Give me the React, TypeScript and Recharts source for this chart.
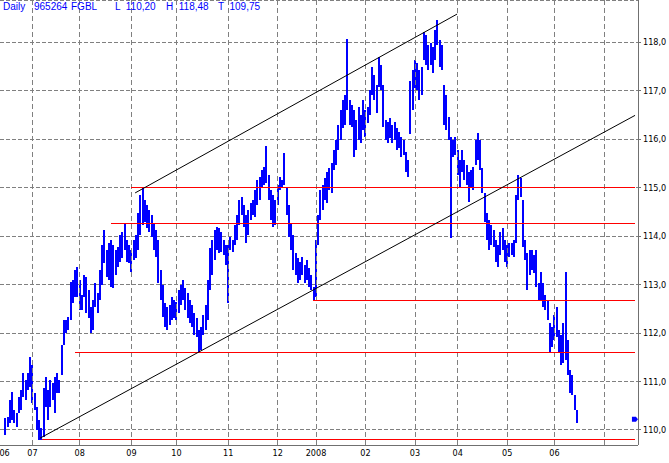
import React from 'react';
import {
  ComposedChart,
  Bar,
  XAxis,
  YAxis,
  CartesianGrid,
  ReferenceLine,
  ReferenceDot,
} from 'recharts';

// trading-day index of the first bar
const firstDay = 2;

const lows = [
  109.90, 110.06, 110.14, 110.21, 110.14, 110.06, 110.35, 110.41, 110.68, 110.62,
  110.82, 110.89, 110.56, 110.41, 110.00, 109.79, 109.79, 109.86, 110.47, 110.21,
  110.47, 110.62, 110.35, 110.76, 110.76, 111.13, 111.75, 112.00, 112.06, 112.27,
  112.62, 112.74, 112.74, 112.47, 112.47, 112.74, 112.41, 112.31, 112.00, 112.06,
  112.54, 112.41, 112.68, 112.99, 113.44, 113.15,
  113.09, 112.95, 112.93, 113.20, 113.36, 113.46, 113.55, 113.71, 113.46, 113.44,
  113.26, 113.51, 113.55, 113.71, 114.02, 114.23, 114.29, 114.16, 114.08, 113.98,
  113.71, 113.57, 113.03, 112.68, 112.33, 112.12, 112.06, 112.16, 112.27, 112.31,
  112.27, 112.41, 112.58, 112.68, 112.47, 112.31, 112.21, 112.12, 111.96, 111.92,
  111.59, 111.65, 111.96, 112.06, 112.27, 112.89, 113.20, 113.51, 113.71, 113.65,
  113.67, 113.61, 113.40, 112.62, 113.71, 113.67, 113.81, 113.92, 114.23, 114.43,
  114.19, 113.86, 114.02, 114.33, 114.43, 114.39, 114.64, 114.74, 115.01, 115.05,
  115.09, 114.74, 114.33, 114.19, 114.23, 114.64, 114.95, 114.99, 115.05, 114.43,
  113.98, 113.71, 113.30, 113.20, 113.03, 113.09, 113.20, 113.03, 113.09, 112.95,
  112.89, 112.68, 112.74, 113.81, 114.33, 114.54, 114.74, 114.68, 114.95, 114.89,
  115.36, 115.46, 115.77, 115.98, 116.23, 116.29, 116.60, 116.29, 116.25, 115.63,
  115.77, 115.98, 115.92, 116.19, 116.04, 116.33, 116.49, 116.91, 116.80, 116.54,
  117.07, 117.01, 116.25, 115.98, 115.92, 116.02, 115.92, 115.98, 115.77, 115.81,
  115.63, 115.67, 115.32, 115.22, 116.10, 116.60, 117.05, 117.01, 116.80, 116.91,
  117.63, 117.53, 117.42, 117.53, 117.36, 117.63, 117.94, 117.48, 117.42, 116.29,
  116.19, 115.98,
  113.96, 115.63, 115.67, 115.26, 115.01, 115.32, 115.15, 115.05, 114.70, 114.99,
  114.95, 115.46, 115.57, 115.36, 114.89, 114.29, 113.92, 113.71, 113.81, 113.77,
  113.46, 113.36, 113.61, 113.71, 113.46, 113.36, 113.57, 113.61, 113.57, 113.86,
  114.74, 114.80, 113.77, 113.51, 112.89, 113.20, 113.30, 113.24, 112.95, 112.68,
  112.68, 112.54, 112.47, 112.27, 111.59, 111.71, 111.86, 111.92, 111.59, 111.34,
  111.38, 111.44, 111.13, 110.76, 110.72, 110.41, 110.14,
];

const highs = [
  110.25, 110.27, 110.62, 110.78, 110.41, 110.35, 110.68, 110.82, 111.18, 111.03,
  111.18, 111.51, 111.34, 110.76, 110.47, 110.21, 110.04, 110.87, 111.09, 110.82,
  111.03, 110.97, 111.09, 111.18, 111.03, 111.75, 112.27, 112.27, 112.33, 113.05,
  113.09, 113.30, 113.36, 113.09, 112.78, 113.20, 113.15, 112.89, 112.54, 112.68,
  113.03, 112.82, 113.30, 113.81, 114.12, 113.71,
  113.86, 113.92, 113.81, 113.71, 113.77, 114.02, 114.08, 114.27, 113.92, 113.81,
  113.71, 113.92, 114.02, 114.47, 114.85, 114.99, 114.74, 114.64, 114.54, 114.43,
  114.27, 114.12, 113.92, 113.30, 112.99, 112.62, 112.54, 112.58, 112.74, 112.68,
  112.64, 112.89, 112.99, 113.09, 112.93, 112.82, 112.68, 112.58, 112.41, 112.31,
  112.06, 112.12, 112.37, 112.58, 113.09, 113.75, 113.92, 114.12, 114.19, 114.16,
  114.08, 113.92, 113.81, 113.81, 113.98, 113.92, 114.23, 114.43, 114.74, 114.80,
  114.64, 114.43, 114.54, 114.68, 114.74, 114.95, 115.15, 115.22, 115.36, 115.42,
  115.86, 115.26, 114.95, 114.85, 114.74, 115.05, 115.22, 115.15, 115.71, 115.01,
  114.64, 114.27, 114.02, 113.65, 113.55, 113.46, 113.57, 113.40, 113.51, 113.34,
  113.20, 112.95, 113.92, 114.43, 114.95, 115.05, 115.20, 115.32, 115.40, 115.51,
  115.77, 115.98, 116.29, 116.60, 116.80, 116.91, 118.06, 116.80, 116.70, 116.60,
  116.39, 116.66, 116.49, 116.80, 116.60, 116.66, 117.01, 117.48, 117.32, 117.11,
  117.69, 117.53, 117.11, 116.39, 116.35, 116.43, 116.29, 116.35, 116.23, 116.14,
  116.04, 115.98, 115.73, 115.57, 117.20, 117.42, 117.63, 117.57, 117.42, 117.48,
  118.21, 118.14, 117.94, 117.98, 117.90, 118.25, 118.45, 118.04, 117.94, 117.11,
  116.91, 116.45,
  116.04, 115.98, 116.04, 115.77, 115.57, 115.77, 115.57, 115.46, 115.32, 115.36,
  115.42, 115.98, 116.12, 115.98, 115.40, 114.89, 114.47, 114.33, 114.23, 114.12,
  113.92, 113.81, 114.08, 114.16, 113.92, 113.81, 113.86, 113.86, 113.92, 114.85,
  115.26, 115.20, 114.74, 113.92, 113.65, 113.71, 113.71, 113.61, 113.71, 113.03,
  113.26, 113.03, 112.78, 112.68, 112.21, 112.12, 112.37, 112.54, 112.06, 111.96,
  112.21, 113.26, 111.86, 111.24, 111.13, 110.72, 110.41,
];

const monthTicks = [1.6, 14, 35, 58, 78, 101, 123, 140, 162, 184, 203, 225, 246];
const monthLabels = ['06', '07', '08', '09', '10', '11', '12', '2008', '02', '03', '04', '05', '06'];
const gridDays = [14, 35, 58, 78, 101, 123, 140, 162, 184, 203, 225, 246, 268];
const priceTicks = [110, 111, 112, 113, 114, 115, 116, 117, 118];

// drawn channel: [day, price] pairs
const trendLines = [
  [[17.3, 109.83], [281.8, 116.49]],
  [[59.6, 114.89], [202.7, 118.58]],
];
// horizontal levels: price and start day
const levelPrices = [115.0, 114.25, 112.68, 111.59, 109.81];
const levelStarts = [57.8, 48.9, 138.7, 32.9, 18.2];
const levelEnd = 281.8;

const lastDay = 281.3;
const lastPrice = 110.22;

const header = [
  { text: 'Daily', x: 3 },
  { text: '965264', x: 34 },
  { text: 'FGBL', x: 71 },
  { text: 'L  110,20', x: 115 },
  { text: 'H  118,48', x: 166 },
  { text: 'T  109,75', x: 218 },
];

const tickFont = "'Liberation Sans Narrow', 'DejaVu Sans Condensed', Arial, sans-serif";

const data = lows.map((lo, k) => ({ day: firstDay + k, range: [lo, highs[k]] }));

function LastMarker(props: any) {
  const { cx, cy } = props;
  const pts = `${cx - 2},${cy - 2.5} ${cx + 2},${cy - 2.5} ${cx + 4},${cy} ${cx + 2},${cy + 2.5} ${cx - 2},${cy + 2.5}`;
  return <polygon points={pts} fill="#0000ff" />;
}

export default function App() {
  return (
    <div style={{ position: 'absolute', left: 0, top: 0, width: 669, height: 463, background: '#fff' }}>
      <ComposedChart width={669} height={463} data={data} margin={{ top: 0, right: 0, bottom: 0, left: 0 }}>
        <CartesianGrid vertical={false} stroke="#808080" strokeDasharray="4 2" shapeRendering="crispEdges" />
        {gridDays.map((d) => (
          <ReferenceLine key={'g' + d} x={d} stroke="#808080" strokeDasharray="5 3" shapeRendering="crispEdges" />
        ))}
        <XAxis
          type="number"
          dataKey="day"
          domain={[-0.45, 283.1]}
          allowDataOverflow
          ticks={monthTicks}
          tickFormatter={(v: number) => monthLabels[monthTicks.indexOf(v)] ?? ''}
          interval={0}
          height={18}
          tickLine={false}
          tickSize={3}
          tickMargin={2}
          axisLine={{ stroke: '#707070', shapeRendering: 'crispEdges' }}
          tick={{ fontSize: 9, fill: '#000', fontFamily: tickFont }}
        />
        <YAxis
          orientation="right"
          type="number"
          domain={[109.69, 118.87]}
          allowDataOverflow
          ticks={priceTicks}
          interval={0}
          width={31}
          tickSize={3}
          tickMargin={2}
          tickFormatter={(v: number) => v.toFixed(1).replace('.', ',')}
          axisLine={{ stroke: '#707070', shapeRendering: 'crispEdges' }}
          tickLine={{ stroke: '#707070', shapeRendering: 'crispEdges' }}
          tick={{ fontSize: 9, fill: '#000', fontFamily: tickFont }}
        />
        <Bar dataKey="range" fill="#0000ff" barSize={2} shapeRendering="crispEdges" isAnimationActive={false} />
        {levelPrices.map((p, k) => (
          <ReferenceLine
            key={'l' + k}
            segment={[{ x: levelStarts[k], y: p }, { x: levelEnd, y: p }]}
            stroke="#ff0000"
            strokeWidth={1}
            shapeRendering="crispEdges"
            ifOverflow="visible"
          />
        ))}
        {trendLines.map((seg, k) => (
          <ReferenceLine
            key={'t' + k}
            segment={[{ x: seg[0][0], y: seg[0][1] }, { x: seg[1][0], y: seg[1][1] }]}
            stroke="#000"
            strokeWidth={1}
            ifOverflow="visible"
          />
        ))}
        <ReferenceDot x={lastDay} y={lastPrice} r={3} shape={LastMarker} ifOverflow="visible" />
      </ComposedChart>
      <svg width={669} height={16} style={{ position: 'absolute', left: 0, top: 0 }}>
        {header.map((h) => (
          <text key={h.text} x={h.x} y={10} fontSize={10} fill="#0000ff" fontFamily="'Liberation Sans', Arial, sans-serif" style={{ whiteSpace: 'pre' }}>
            {h.text}
          </text>
        ))}
      </svg>
    </div>
  );
}
